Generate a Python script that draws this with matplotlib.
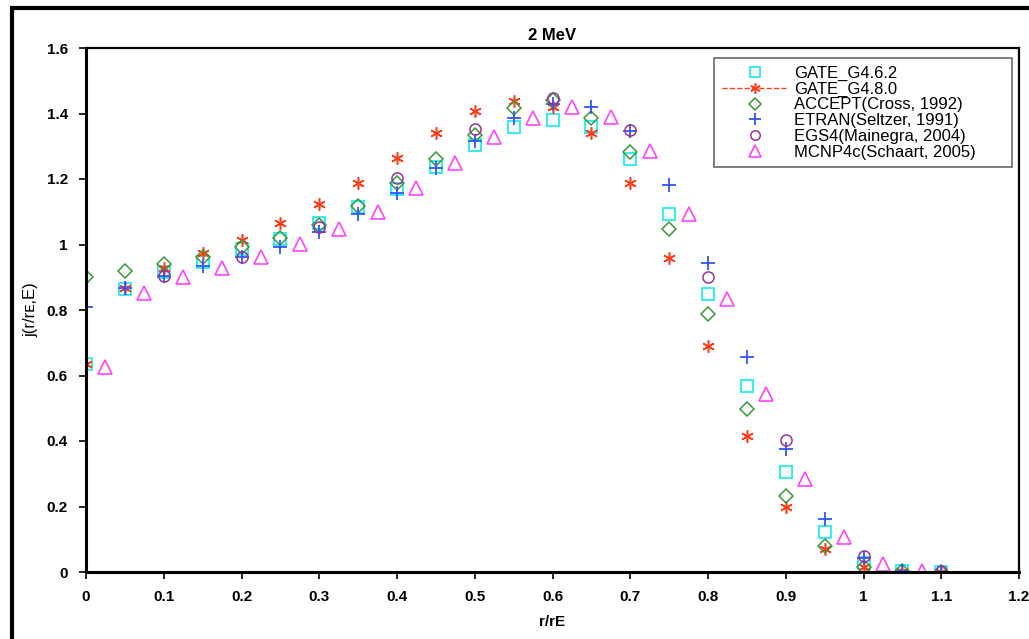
import matplotlib
matplotlib.use("Agg")
import matplotlib.pyplot as plt
import matplotlib.patches as patches
from matplotlib.lines import Line2D

plt.rcParams['font.family'] = ['Liberation Sans', 'DejaVu Sans']

# data
x_main = [0.0, 0.05, 0.1, 0.15, 0.2, 0.25, 0.3, 0.35, 0.4, 0.45, 0.5, 0.55,
          0.6, 0.65, 0.7, 0.75, 0.8, 0.85, 0.9, 0.95, 1.0, 1.05, 1.1]
gate_462 = [0.634, 0.863, 0.917, 0.948, 0.985, 1.016, 1.065, 1.115, 1.17, 1.237, 1.304, 1.36,
            1.38, 1.358, 1.262, 1.093, 0.848, 0.568, 0.304, 0.121, 0.028, 0.003, 0.001]
gate_480 = [0.634, 0.868, 0.927, 0.973, 1.015, 1.065, 1.124, 1.189, 1.263, 1.341, 1.408, 1.439,
            1.421, 1.341, 1.189, 0.96, 0.69, 0.416, 0.198, 0.069, 0.016, 0.003, 0.001]
accept = [0.902, 0.919, 0.94, 0.961, 0.993, 1.021, 1.06, 1.117, 1.187, 1.26, 1.335, 1.418,
          1.441, 1.387, 1.282, 1.048, 0.787, 0.497, 0.233, 0.079, 0.016, 0.002, 0.001]
etran = [0.81, 0.868, 0.905, 0.934, 0.961, 0.993, 1.039, 1.093, 1.156, 1.233, 1.316, 1.385,
         1.428, 1.421, 1.347, 1.182, 0.944, 0.657, 0.375, 0.162, 0.042, 0.003, 0.001]

x_egs4 = [0.1, 0.2, 0.3, 0.4, 0.5, 0.6, 0.7, 0.8, 0.9, 1.0, 1.1]
egs4 = [0.905, 0.963, 1.052, 1.202, 1.352, 1.446, 1.35, 0.9, 0.403, 0.049, 0.002]

x_mcnp = [0.025, 0.075, 0.125, 0.175, 0.225, 0.275, 0.325, 0.375, 0.425, 0.475, 0.525,
          0.575, 0.625, 0.675, 0.725, 0.775, 0.825, 0.875, 0.925, 0.975, 1.025, 1.075]
mcnp = [0.627, 0.851, 0.9, 0.929, 0.963, 1.002, 1.046, 1.098, 1.172, 1.248, 1.327,
        1.387, 1.419, 1.388, 1.286, 1.093, 0.833, 0.543, 0.284, 0.108, 0.024, 0.002]

W, H = 1029, 639
fig = plt.figure(figsize=(W / 100, H / 100), dpi=100)
ax = fig.add_axes([86 / W, 1 - 572 / H, (1019 - 86) / W, (572 - 48) / H])

# outer frame of the picture (cut off at right and bottom)
fig.patches.append(patches.Rectangle((12 / W, -0.05), 1.1, 1 - 8 / H + 0.05,
                                     transform=fig.transFigure, fill=False,
                                     edgecolor='black', lw=3, zorder=0))

ms = 8
styles = [
    dict(marker='s', ms=ms, mfc='none', mec='#22eeee', mew=1.3),
    dict(marker=(6, 2, 0), ms=ms + 1, mec='#ff3b1a', mew=1.1),
    dict(marker='D', ms=ms - 1, mfc='none', mec='#3a9a3a', mew=1.1),
    dict(marker='+', ms=ms + 2, mec='#3355ff', mew=1.3),
    dict(marker='o', ms=ms, mfc='none', mec='#993399', mew=1.1),
    dict(marker='^', ms=ms + 2, mfc='none', mec='#ff44ff', mew=1.2),
]
series = [(x_main, gate_462), (x_main, gate_480), (x_main, accept),
          (x_main, etran), (x_egs4, egs4), (x_mcnp, mcnp)]
for (xs, ys), st in zip(series, styles):
    ax.plot(xs, ys, ls='none', **st)

ax.set_xlim(0, 1.2)
ax.set_ylim(0, 1.6)
ax.set_xticks([0, 0.1, 0.2, 0.3, 0.4, 0.5, 0.6, 0.7, 0.8, 0.9, 1, 1.1, 1.2])
ax.set_xticklabels(['0', '0.1', '0.2', '0.3', '0.4', '0.5', '0.6', '0.7', '0.8', '0.9', '1', '1.1', '1.2'])
ax.set_yticks([0, 0.2, 0.4, 0.6, 0.8, 1.0, 1.2, 1.4, 1.6])
ax.set_yticklabels(['0', '0.2', '0.4', '0.6', '0.8', '1', '1.2', '1.4', '1.6'])
ax.tick_params(direction='out', length=5, width=1.2, labelsize=11, pad=8)
for lab in ax.get_xticklabels() + ax.get_yticklabels():
    lab.set_fontweight('bold')
for side in ['left', 'bottom']:
    ax.spines[side].set_linewidth(2.2)
for side in ['top', 'right']:
    ax.spines[side].set_linewidth(1.6)

ax.set_title('2 MeV', fontsize=12, fontweight='bold', pad=6)
ax.set_xlabel('r/rE', fontsize=11, fontweight='bold', labelpad=8)
ax.set_ylabel('j(r/rᴇ,E)', fontsize=12, labelpad=6)

handles = []
for i, st in enumerate(styles):
    if i == 1:
        handles.append(Line2D([], [], ls='--', lw=1, color='#ff3b1a', **st))
    else:
        handles.append(Line2D([], [], ls='none', **st))
labels = ['GATE_G4.6.2', 'GATE_G4.8.0', 'ACCEPT(Cross, 1992)', 'ETRAN(Seltzer, 1991)',
          'EGS4(Mainegra, 2004)', 'MCNP4c(Schaart, 2005)']
leg = fig.legend(handles, labels, loc='upper left',
                 bbox_to_anchor=(714 / W, 1 - 170 / H, (1012 - 714) / W, (170 - 58) / H),
                 mode='expand', fontsize=12, frameon=True, fancybox=False, edgecolor='#444444',
                 labelspacing=0.05, handlelength=4.0, handletextpad=0.35, borderpad=0.45,
                 borderaxespad=0, markerscale=0.85)
leg.get_frame().set_linewidth(1.2)

fig.savefig('out.png', dpi=100)
